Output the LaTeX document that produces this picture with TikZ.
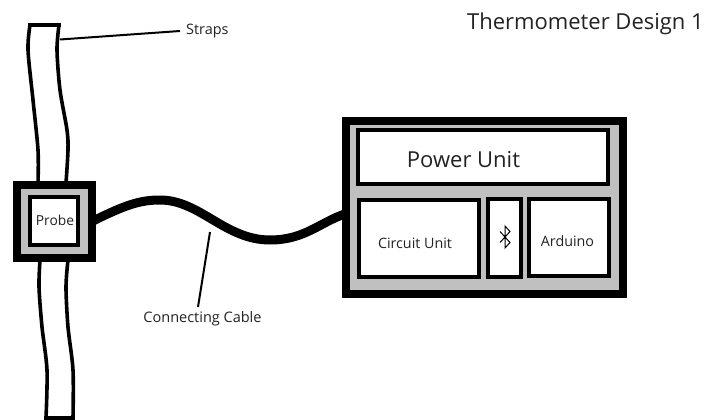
\documentclass[tikz,border=0pt]{standalone}
\usepackage{fontspec}
\setmainfont{Open Sans}
\definecolor{panel}{HTML}{C0C0C0}
\definecolor{ink}{HTML}{222222}
\tikzset{
  outerbox/.style={draw=black,fill=panel,line width=8pt,inner sep=0pt},
  innerbox/.style={draw=black,fill=white,line width=4pt,inner sep=0pt},
  strapline/.style={draw=black,line width=3.6pt},
  leader/.style={draw=black,line width=2pt},
  cableline/.style={draw=black,line width=9pt},
  lbl/.style={inner sep=0pt,text=ink,font=\fontsize{#1}{#1}\selectfont},
}
\begin{document}
\begin{tikzpicture}[x=1pt,y=-1pt]
\useasboundingbox (0,0) rectangle (707,420);
% straps
\draw[strapline] plot[smooth] coordinates {(30,25) (28,50) (33,100) (38,150) (38,183)};
\draw[strapline] plot[smooth] coordinates {(59,25) (57,50) (60,90) (67,130) (68,150) (66,183)};
\draw[strapline,line cap=rect] (30,25) -- (59,25);
\draw[strapline] plot[smooth] coordinates {(40,260) (39,287) (42,327) (47,370) (46,418)};
\draw[strapline] plot[smooth] coordinates {(68,260) (66,287) (68,327) (73,370) (73,418)};
\draw[strapline,line cap=rect] (46,418) -- (73,418);
% probe
\node[outerbox,minimum width=75.5pt,minimum height=73pt] (probeOuter) at (54.25,221.5) {};
\node[innerbox,minimum width=48pt,minimum height=48pt] (probeInner) at (54,221) {};
\node[lbl=13.8] (probeText) at (55,220.5) {Probe};
% device
\node[outerbox,minimum width=276.5pt,minimum height=172.5pt] (device) at (484.5,207.5) {};
\node[innerbox,minimum width=250pt,minimum height=54pt] (power) at (483,157) {};
\node[innerbox,minimum width=120pt,minimum height=77pt] (circuit) at (418.5,238.5) {};
\node[innerbox,minimum width=33.3pt,minimum height=78.5pt] (bt) at (504.5,238) {};
\node[innerbox,minimum width=80pt,minimum height=77.5pt] (arduino) at (568.8,237.5) {};
\node[lbl=22] (powerText) at (463.5,160) {Power Unit};
\node[lbl=14.3] (circuitText) at (415,243.5) {Circuit Unit};
\node[lbl=14.3] (arduinoText) at (567.5,241.5) {Arduino};
\draw[black,line width=1pt,line join=miter] (500,231.5) -- (510,242.5) -- (505,248) -- (505,226) -- (510,231.5) -- (500,242.5);
% cable
\coordinate (cablePoint) at (210,232);
\draw[cableline] ([xshift=-4pt]probeOuter.east) .. controls (125,205) and (140,200) .. (160,200)
  .. controls (200,200) and (225,240) .. (270,240)
  .. controls (305,240) and (320,222) .. ([xshift=4pt,yshift=-6pt]device.west);
% labels
\node[lbl=14.4,anchor=west] (strapsText) at (186,31) {Straps};
\coordinate (strapPoint) at (60,39.5);
\draw[leader] (strapPoint) -- ([xshift=-6pt]strapsText.west);
\node[lbl=14.5] (cableText) at (202.5,318.5) {Connecting Cable};
\coordinate (cableEnd) at (198,307);
\draw[leader] (cablePoint) -- (cableEnd);
\node[lbl=22,anchor=east] (title) at (704,23.5) {Thermometer Design 1};
\end{tikzpicture}
\end{document}
